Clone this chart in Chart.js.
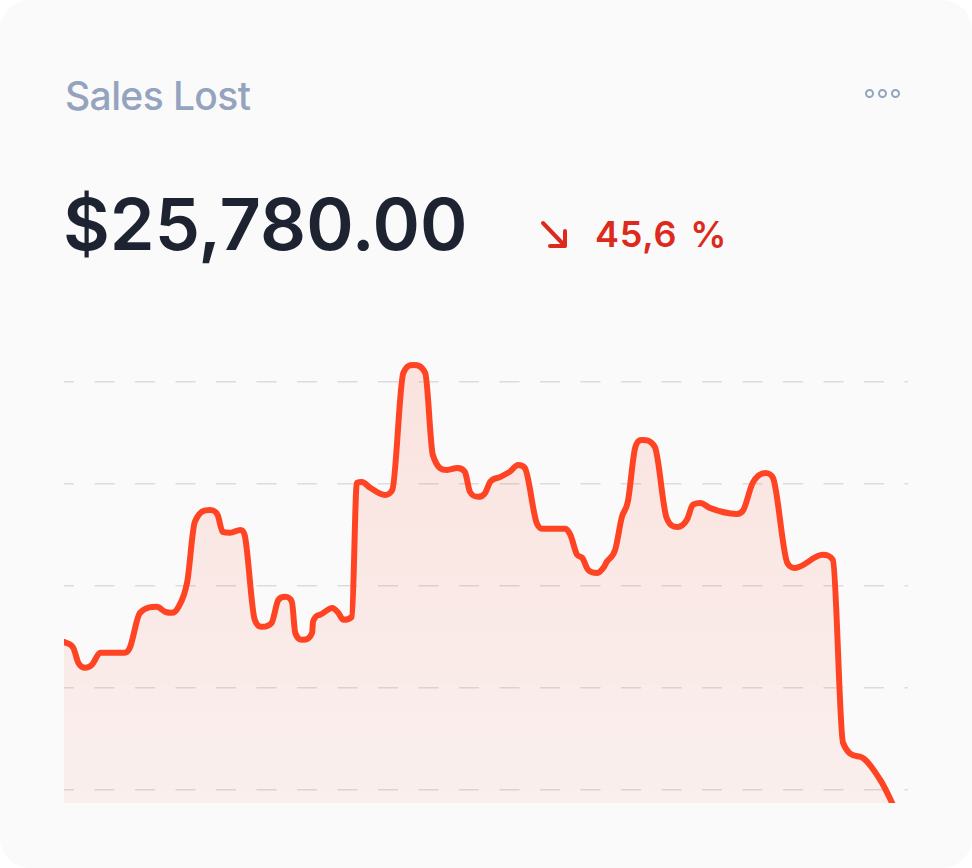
<!DOCTYPE html>
<html>
<head>
<meta charset="utf-8">
<script src="https://cdn.jsdelivr.net/npm/chart.js@4.4.1/dist/chart.umd.min.js"></script>
<style>
  html, body { margin: 0; padding: 0; background: #ffffff; }
  .card {
    position: relative;
    width: 972px;
    height: 868px;
    background: #fafafa;
    border-radius: 30px;
    overflow: hidden;
    font-family: Inter, "Noto Sans", sans-serif;
  }
  .title {
    position: absolute;
    left: 65px;
    top: 72px;
    font-size: 39px;
    line-height: 48px;
    font-weight: 500;
    color: #94a3be;
    letter-spacing: -0.6px;
  }
  .more {
    position: absolute;
    left: 865px;
    top: 89px;
    display: flex;
    gap: 4px;
  }
  .more span {
    width: 5px;
    height: 5px;
    border: 2.5px solid #94a3be;
    border-radius: 50%;
  }
  .amount {
    position: absolute;
    left: 63px;
    top: 181px;
    font-size: 72px;
    line-height: 86px;
    font-weight: 600;
    color: #1e2331;
    letter-spacing: 0px;
  }
  .change {
    position: absolute;
    left: 538px;
    top: 214px;
    display: flex;
    align-items: center;
    color: #dc2b1c;
    font-size: 36px;
    line-height: 40px;
    font-weight: 600;
    letter-spacing: 0.8px;
    word-spacing: 3px;
  }
  .change svg { margin-right: 25px; }
  .chart-box {
    position: absolute;
    left: 64px;
    top: 331px;
    width: 844px;
    height: 472px;
  }
</style>
</head>
<body>
<div class="card">
  <div class="title">Sales Lost</div>
  <div class="more"><span></span><span></span><span></span></div>
  <div class="amount">$25,780.00</div>
  <div class="change">
    <svg width="32" height="32" viewBox="0 0 32 32">
      <path d="M5 5 L27 28 M27 13 L27 28 L12 28" stroke="#dc2b1c" stroke-width="4" fill="none" stroke-linecap="round" stroke-linejoin="round"/>
    </svg>
    <span>45,6 %</span>
  </div>
  <div class="chart-box"><canvas id="salesChart"></canvas></div>
</div>
<script>
// position on the time axis (0 - 100) and lost sales value
const days = [
  0, 1.1, 1.7, 2.5, 3.3, 4.3, 7.2, 7.8, 9.0, 11.0,
  12.0, 12.8, 13.5, 14.6, 15.5, 17.3, 18.2, 18.8, 19.7, 20.9,
  21.4, 22.6, 23.5, 24.6, 25.4, 26.2, 27.0, 27.4, 28.3, 29.4,
  29.5, 30.3, 31.8, 32.5, 33.1, 34.1, 34.7, 35.3, 36.3, 38.0,
  38.9, 40.2, 41.4, 42.8, 43.7, 45.4, 46.6, 47.5, 48.1, 49.1,
  49.9, 50.5, 51.7, 52.8, 53.8, 54.6, 56.0, 56.8, 59.4, 60.0,
  60.8, 61.4, 62.1, 63.2, 63.9, 64.3, 65.3, 66.1, 66.8, 67.7,
  68.5, 70.0, 71.4, 72.7, 73.8, 74.5, 75.4, 76.5, 79.7, 80.5,
  81.6, 83.1, 84.0, 85.7, 86.6, 89.9, 91.1, 92.3, 94.3, 96.7,
  98.1, 99.1
];
const lost = [
  2451, 2392, 2245, 2196, 2225, 2343, 2343, 2392, 2735, 2794,
  2745, 2735, 2784, 3039, 3627, 3745, 3696, 3529, 3520, 3549,
  3500, 2667, 2598, 2637, 2863, 2892, 2843, 2539, 2471, 2539,
  2647, 2716, 2784, 2735, 2667, 2696, 4010, 4020, 3961, 3892,
  3941, 5088, 5167, 5088, 4284, 4137, 4157, 4118, 3922, 3873,
  3912, 4020, 4069, 4118, 4186, 4157, 3618, 3559, 3559, 3500,
  3304, 3275, 3157, 3127, 3176, 3235, 3353, 3676, 3824, 4363,
  4431, 4363, 3667, 3578, 3647, 3794, 3814, 3765, 3706, 3745,
  4010, 4108, 4059, 3225, 3176, 3304, 3255, 1461, 1324, 1098,
  873, 686
];
const gridValues = [1000, 2000, 3000, 4000, 5000];

let salesChart;

document.addEventListener("DOMContentLoaded", function () {
    const ctx = document.getElementById('salesChart').getContext('2d');
    salesChart = new Chart(ctx, {
        type: 'line',
        data: {
            datasets: [{
                label: 'Sales Lost',
                data: days.map((d, i) => ({ x: d, y: lost[i] })),
                borderColor: '#ff4424',
                borderWidth: 6,
                borderCapStyle: 'round',
                borderJoinStyle: 'round',
                cubicInterpolationMode: 'monotone',
                pointRadius: 0,
                clip: 0,
                fill: 'start',
                backgroundColor: function (context) {
                    const area = context.chart.chartArea;
                    if (!area) return 'rgba(255, 68, 36, 0.1)';
                    const g = context.chart.ctx.createLinearGradient(0, area.top, 0, area.bottom);
                    g.addColorStop(0, 'rgba(255, 68, 36, 0.13)');
                    g.addColorStop(1, 'rgba(255, 68, 36, 0.06)');
                    return g;
                }
            }]
        },
        options: {
            responsive: true,
            maintainAspectRatio: false,
            animation: false,
            layout: { padding: 0 },
            plugins: {
                legend: { display: false },
                tooltip: { enabled: false }
            },
            scales: {
                x: {
                    type: 'linear',
                    min: 0,
                    max: 100,
                    display: false
                },
                y: {
                    min: 870,
                    max: 5500,
                    afterBuildTicks: function (axis) {
                        axis.ticks = gridValues.map(v => ({ value: v }));
                    },
                    ticks: { display: false },
                    border: { display: false, dash: [20, 20.5], dashOffset: 10 },
                    grid: {
                        color: '#dcdcdc',
                        lineWidth: 1.5,
                        drawTicks: false
                    }
                }
            }
        }
    });
});
</script>
</body>
</html>
